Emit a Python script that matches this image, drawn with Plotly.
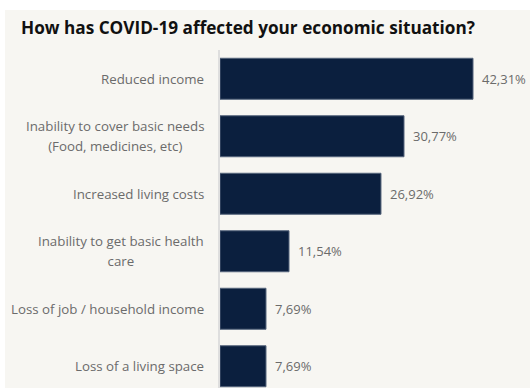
import plotly.graph_objects as go

# Survey answers, top to bottom
categories = [
    "Reduced income",
    "Inability to cover basic needs<br>(Food, medicines, etc)",
    "Increased living costs",
    "Inability to get basic health<br>care",
    "Loss of job / household income",
    "Loss of a living space",
]
shares = [42.31, 30.77, 26.92, 11.54, 7.69, 7.69]
title_text = "How has COVID-19 affected your economic situation?"

W, H = 530, 388
L, T = 220, 50
plot_w, plot_h = W - L, H - T

BAR = "#0b1f3e"
GREY = "#6b6b6b"
BEIGE = "#f7f6f2"
FONT = "Open Sans"
LABEL_SIZE = 13.3
LINE_GAP = 20          # distance between wrapped label lines, px

ids = list(range(len(categories)))

fig = go.Figure(
    go.Bar(
        x=shares,
        y=ids,
        orientation="h",
        marker=dict(color=BAR, line=dict(color="#56657c", width=1)),
        hoverinfo="skip",
    )
)

annotations = []
# category labels: the annotation font size sets the line pitch, while each
# line's own span sets the glyph size
for i, cat in enumerate(categories):
    lines = cat.split("<br>")
    text = "<br>".join(
        f"<span style='font-size:{LABEL_SIZE}px'>{line}</span>" for line in lines
    )
    annotations.append(dict(
        x=0, xref="paper", xanchor="right", xshift=-14,
        y=i, yref="y", yanchor="middle",
        text=text, align="center", showarrow=False,
        font=dict(family=FONT, size=LINE_GAP / 1.3, color=GREY),
    ))

# value labels beside each bar
for i, v in enumerate(shares):
    annotations.append(dict(
        x=v, xref="x", xanchor="left", xshift=7,
        y=i, yref="y", yanchor="middle",
        text=f"{v:.2f}".replace(".", ",") + "%", showarrow=False,
        font=dict(family=FONT, size=13, color=GREY),
    ))

# title
annotations.append(dict(
    x=-(L - 19) / plot_w, xref="paper", xanchor="left",
    y=1 + (T - 28) / plot_h, yref="paper", yanchor="middle",
    text=f"<b>{title_text}</b>", showarrow=False,
    font=dict(family=FONT, size=17.2, color="#111111"),
))

px_per_unit = 57.5
fig.update_layout(
    width=W, height=H,
    margin=dict(l=L, r=0, t=T, b=0, autoexpand=False),
    paper_bgcolor="white",
    plot_bgcolor="rgba(0,0,0,0)",
    bargap=1 - 41 / px_per_unit,
    showlegend=False,
    annotations=annotations,
    shapes=[dict(
        type="rect", xref="paper", yref="paper", layer="below",
        x0=-(L - 5) / plot_w, x1=1.0,
        y0=0, y1=1 + (T - 10) / plot_h,
        fillcolor=BEIGE, line=dict(width=0),
    )],
    xaxis=dict(range=[0, plot_w / 5.98], visible=False, fixedrange=True),
    yaxis=dict(
        range=[-0.5 + plot_h / px_per_unit, -0.5],
        showticklabels=False, showgrid=False, zeroline=False,
        showline=True, linecolor="#dedede", linewidth=2,
        fixedrange=True,
    ),
)

fig.write_html("out.html")
